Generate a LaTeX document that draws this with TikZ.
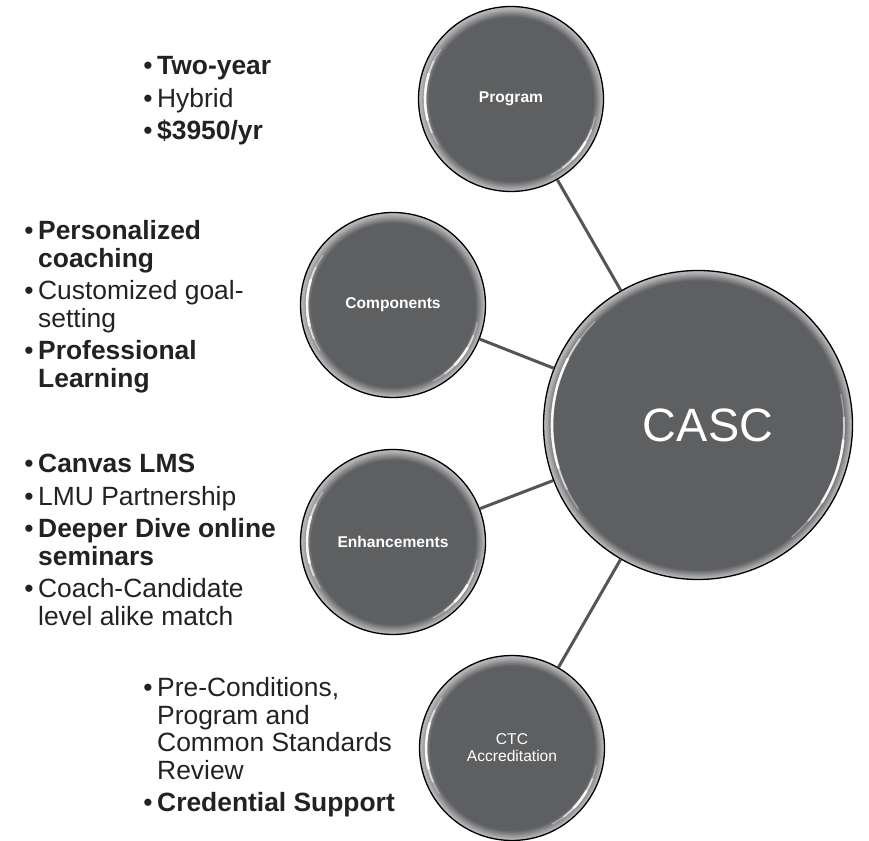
\documentclass[tikz,border=0pt]{standalone}
\usepackage{fontspec}
\setmainfont{Liberation Sans}
\definecolor{circfill}{HTML}{5E5F61}
\definecolor{rimc}{HTML}{B4B4B6}
\definecolor{connc}{HTML}{555555}
\definecolor{txtc}{HTML}{222222}
\pgfdeclareradialshading{glossy}{\pgfpoint{0bp}{0bp}}{color(0bp)=(circfill); color(22.2bp)=(circfill); color(24.5bp)=(rimc); color(25bp)=(rimc); color(50bp)=(rimc)}
\pgfdeclareradialshading{glossybig}{\pgfpoint{0bp}{0bp}}{color(0bp)=(circfill); color(23.4bp)=(circfill); color(24.7bp)=(rimc); color(25bp)=(rimc); color(50bp)=(rimc)}
\newcommand\bul{\leavevmode\llap{\textmd{•}\hspace{4.5pt}}}
\newcommand\gloss[4]{%
  \foreach \w/\o/\d in {1.4/0.35/0, 2/0.55/9, 2.6/0.85/18} {
    \draw[white, line width=\w pt, opacity=\o, line cap=round]
      ([shift={(#3+\d:#2)}]#1.center) arc[start angle=#3+\d, end angle=#4-\d, radius=#2];
  }}
\tikzset{
  bubble/.style={circle, draw=black, line width=1.3pt, shading=glossy,
    minimum size=185pt, inner sep=0pt, text=white,
    font=\fontsize{15.6}{17}\selectfont\bfseries, align=center},
  hub/.style={bubble, minimum size=309pt, shading=glossybig,
    font=\fontsize{46.8}{50}\selectfont},
  conn/.style={draw=connc, line width=3pt},
  blocktext/.style={anchor=base west, inner sep=0pt, text=txtc},
}
\newenvironment{blist}{\begin{minipage}[t]{320pt}\fontsize{26.4}{27.5}\selectfont
  \raggedright\setlength{\parindent}{0pt}\setlength{\parskip}{5pt}}{\end{minipage}}
\begin{document}
\begin{tikzpicture}[x=1pt,y=1pt]
\useasboundingbox (0,0) rectangle (869,840);
% circles
\node[bubble] (prog) at (511,741) {Program};
\node[bubble] (comp) at (393,535) {Components};
\node[bubble] (enh) at (393,298) {Enhancements};
\node[hub] (casc) at (698,415) {\kern20pt CASC};
\node[bubble, font=\fontsize{15.6}{17}\selectfont] (ctc) at (512,92) {CTC\\Accreditation};
% connectors
\draw[conn] (casc) -- (prog);
\draw[conn] (casc) -- (comp);
\draw[conn] (casc) -- (enh);
\draw[conn] (casc) -- (ctc);
% glossy highlights
\gloss{prog}{86}{145}{212}
\gloss{prog}{86}{-62}{-12}
\gloss{comp}{86}{145}{212}
\gloss{comp}{86}{-62}{-12}
\gloss{enh}{86}{145}{212}
\gloss{enh}{86}{-62}{-12}
\gloss{ctc}{86}{145}{212}
\gloss{ctc}{86}{-62}{-12}
\gloss{casc}{146}{135}{215}
\gloss{casc}{146}{-50}{12}
% text blocks
\node[blocktext] (t1) at (157,765) {\begin{blist}
\bul\textbf{Two-year}\par
\bul Hybrid\par
\bul\textbf{\$3950/yr}\end{blist}};
\node[blocktext] (t2) at (38,600) {\begin{blist}
\bul\textbf{Personalized\\coaching}\par
\bul Customized goal-\\setting\par
\bul\textbf{Professional\\Learning}\end{blist}};
\node[blocktext] (t3) at (38,367) {\begin{blist}
\bul\textbf{Canvas LMS}\par
\bul LMU Partnership\par
\bul\textbf{Deeper Dive online\\seminars}\par
\bul Coach-Candidate\\level alike match\end{blist}};
\node[blocktext] (t4) at (157,143) {\begin{blist}
\bul Pre-Conditions,\\Program and\\Common Standards\\Review\par
\bul\textbf{Credential Support}\end{blist}};
\end{tikzpicture}
\end{document}
